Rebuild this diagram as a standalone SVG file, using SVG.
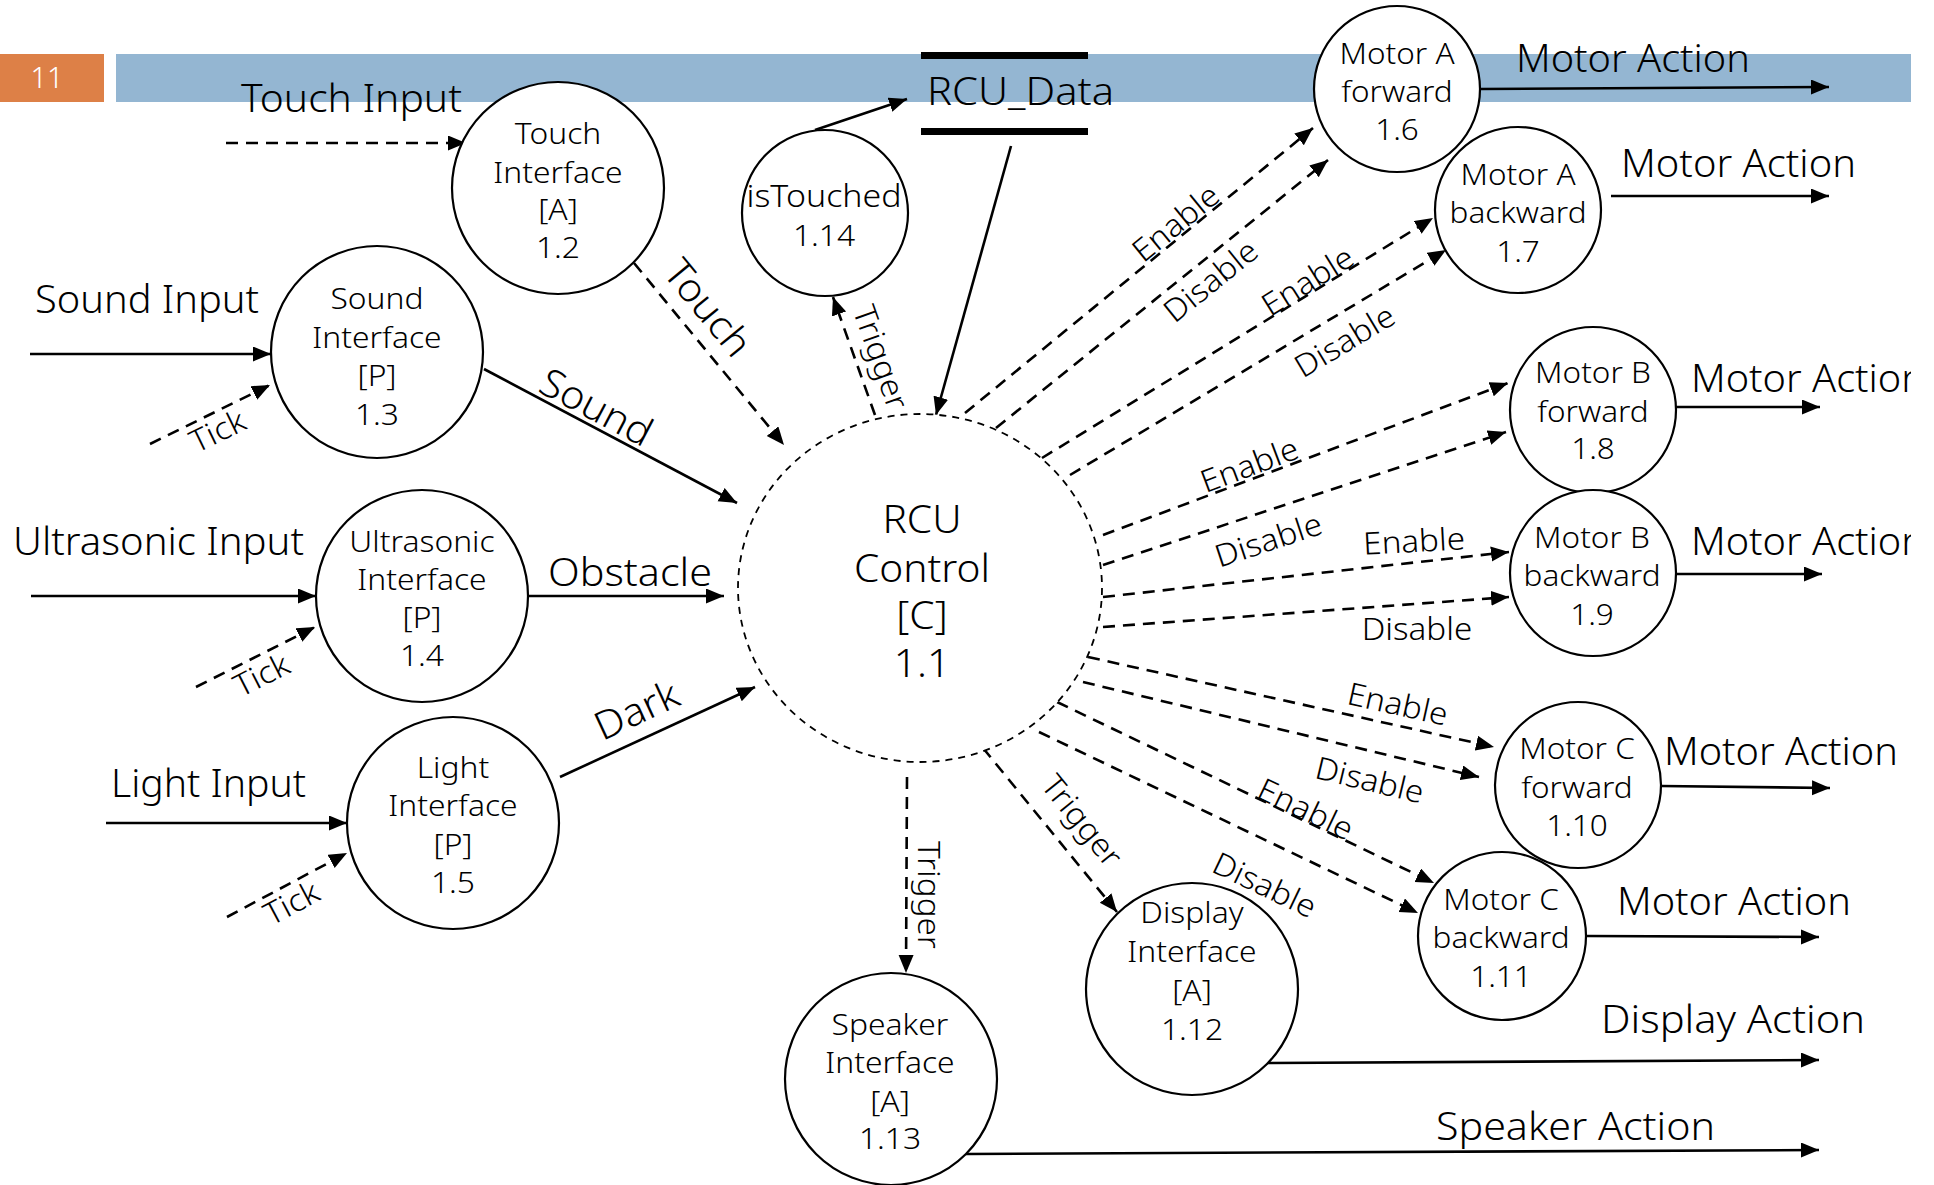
<svg xmlns="http://www.w3.org/2000/svg" width="1934" height="1185" viewBox="0 0 1934 1185">
  <style>
    text { font-family: "Noto Sans", "Liberation Sans", sans-serif; font-weight: 300; fill: #000; }
    .node { fill: #fff; stroke: #000; stroke-width: 2.2; }
    .ctrl { fill: #fff; stroke: #000; stroke-width: 1.8; stroke-dasharray: 7 6; }
    .nt text { font-size: 30px; text-anchor: middle; }
    .rcu text { font-size: 38px; text-anchor: middle; }
    .big { font-size: 39px; }
    .lbl { font-size: 31px; text-anchor: middle; dominant-baseline: central; }
    .lbig { font-size: 39px; text-anchor: middle; dominant-baseline: central; }
    .flow { fill: none; stroke: #000; stroke-width: 2.6; marker-end: url(#arrow); }
    .dflow { fill: none; stroke: #000; stroke-width: 2.6; stroke-dasharray: 12 8; marker-end: url(#arrow); }
  </style>
  <defs>
    <marker id="arrow" markerUnits="userSpaceOnUse" markerWidth="19" markerHeight="16" refX="18" refY="7.5" orient="auto">
      <path d="M0,0 L18,7.5 L0,15 z" fill="#000"/>
    </marker>
    <clipPath id="barClip">
      <rect x="0" y="0" width="1911" height="1185"/>
    </clipPath>
  </defs>

  <rect width="1934" height="1185" fill="#fff"/>

  <!-- slide header bar and page number -->
  <rect x="0" y="54" width="104" height="48" fill="#DD8047"/>
  <rect x="116" y="54" width="1795" height="48" fill="#94B6D2"/>
  <text x="47" y="88" font-size="29" text-anchor="middle" style="fill:#fff">11</text>

  <!-- data store -->
  <g id="store-rcu-data">
    <line x1="921" y1="55.5" x2="1088" y2="55.5" stroke="#000" stroke-width="7"/>
    <line x1="921" y1="131.5" x2="1088" y2="131.5" stroke="#000" stroke-width="7"/>
    <text x="927" y="105" class="big" textLength="187" lengthAdjust="spacingAndGlyphs">RCU_Data</text>
  </g>

  <!-- connectors -->
  <g id="connectors">
    <!-- external inputs -->
    <line class="dflow" x1="226" y1="143" x2="466" y2="143"/>
    <line class="flow" x1="30" y1="354" x2="271" y2="354"/>
    <line class="flow" x1="31" y1="596" x2="316" y2="596"/>
    <line class="flow" x1="106" y1="823" x2="347" y2="823"/>
    <line class="dflow" x1="150" y1="444" x2="270" y2="385"/>
    <line class="dflow" x1="196" y1="687" x2="315" y2="627"/>
    <line class="dflow" x1="227" y1="917" x2="347" y2="853"/>

    <!-- sensor interfaces to control -->
    <line class="dflow" x1="634" y1="263" x2="784" y2="445"/>
    <line class="flow" x1="484" y1="369" x2="737" y2="503"/>
    <line class="flow" x1="528" y1="596" x2="724" y2="596"/>
    <line class="flow" x1="560" y1="777" x2="755" y2="687"/>

    <!-- data store traffic -->
    <line class="flow" x1="815" y1="130" x2="907" y2="99"/>
    <line class="flow" x1="1011" y1="146" x2="936" y2="415"/>
    <line class="dflow" x1="875" y1="415" x2="833" y2="297"/>

    <!-- control to motors -->
    <line class="dflow" x1="965" y1="413" x2="1313" y2="128"/>
    <line class="dflow" x1="996" y1="428" x2="1328" y2="160"/>
    <line class="dflow" x1="1042" y1="458" x2="1433" y2="218"/>
    <line class="dflow" x1="1070" y1="475" x2="1446" y2="250"/>
    <line class="dflow" x1="1103" y1="535" x2="1508" y2="383"/>
    <line class="dflow" x1="1103" y1="565" x2="1506" y2="432"/>
    <line class="dflow" x1="1103" y1="597" x2="1509" y2="552"/>
    <line class="dflow" x1="1103" y1="627" x2="1509" y2="597"/>
    <line class="dflow" x1="1088" y1="657" x2="1494" y2="747"/>
    <line class="dflow" x1="1083" y1="682" x2="1479" y2="777"/>
    <line class="dflow" x1="1057" y1="702" x2="1434" y2="883"/>
    <line class="dflow" x1="1039" y1="732" x2="1418" y2="913"/>

    <!-- control to display / speaker -->
    <line class="dflow" x1="983" y1="748" x2="1117" y2="912"/>
    <line class="dflow" x1="907" y1="777" x2="906" y2="973"/>

    <!-- actuator outputs -->
    <line class="flow" x1="1480" y1="89" x2="1829" y2="87"/>
    <line class="flow" x1="1611" y1="196" x2="1829" y2="196"/>
    <line class="flow" x1="1676" y1="407" x2="1820" y2="407"/>
    <line class="flow" x1="1676" y1="574" x2="1822" y2="574"/>
    <line class="flow" x1="1661" y1="786" x2="1830" y2="788"/>
    <line class="flow" x1="1587" y1="936" x2="1819" y2="937"/>
    <line class="flow" x1="1267" y1="1063" x2="1819" y2="1060"/>
    <line class="flow" x1="966" y1="1154" x2="1819" y2="1150"/>

    <!-- flow labels -->
    <text class="big" x="241" y="112" textLength="221" lengthAdjust="spacingAndGlyphs">Touch Input</text>
    <text class="big" x="35" y="313" textLength="224" lengthAdjust="spacingAndGlyphs">Sound Input</text>
    <text class="big" x="13" y="555" textLength="291" lengthAdjust="spacingAndGlyphs">Ultrasonic Input</text>
    <text class="big" x="111" y="797" textLength="195" lengthAdjust="spacingAndGlyphs">Light Input</text>
    <text class="big" x="548" y="586" textLength="164" lengthAdjust="spacingAndGlyphs">Obstacle</text>
    <text class="lbl" transform="translate(217,430) rotate(-26) scale(1.07,1)">Tick</text>
    <text class="lbl" transform="translate(261,674) rotate(-27) scale(1.07,1)">Tick</text>
    <text class="lbl" transform="translate(291,902) rotate(-28) scale(1.07,1)">Tick</text>
    <text class="lbig" transform="translate(709,307) rotate(50.5) scale(1.06,1)">Touch</text>
    <text class="lbig" transform="translate(597,406) rotate(27.9) scale(1.06,1)">Sound</text>
    <text class="lbig" transform="translate(636,709) rotate(-24.8) scale(1.06,1)">Dark</text>
    <text class="lbl" transform="translate(882,357) rotate(70.4) scale(1.07,1)">Trigger</text>

    <text class="lbl" transform="translate(1175,222) rotate(-39.3) scale(1.07,1)">Enable</text>
    <text class="lbl" transform="translate(1210,280) rotate(-38.9) scale(1.07,1)">Disable</text>
    <text class="lbl" transform="translate(1307,280) rotate(-31.9) scale(1.07,1)">Enable</text>
    <text class="lbl" transform="translate(1344,340) rotate(-30.9) scale(1.07,1)">Disable</text>
    <text class="lbl" transform="translate(1249,464) rotate(-20.6) scale(1.07,1)">Enable</text>
    <text class="lbl" transform="translate(1268,539) rotate(-18.3) scale(1.07,1)">Disable</text>
    <text class="lbl" transform="translate(1414,540) rotate(-3) scale(1.07,1)">Enable</text>
    <text class="lbl" transform="translate(1417,628) scale(1.07,1)">Disable</text>
    <text class="lbl" transform="translate(1398,703) rotate(12.5) scale(1.07,1)">Enable</text>
    <text class="lbl" transform="translate(1370,779) rotate(13.5) scale(1.07,1)">Disable</text>
    <text class="lbl" transform="translate(1306,808) rotate(25.6) scale(1.07,1)">Enable</text>
    <text class="lbl" transform="translate(1265,884) rotate(25.5) scale(1.07,1)">Disable</text>
    <text class="lbl" transform="translate(1083,820) rotate(51) scale(1.07,1)">Trigger</text>
    <text class="lbl" transform="translate(930,895) rotate(90) scale(1.07,1)">Trigger</text>

    <g clip-path="url(#barClip)">
      <text class="big" x="1516" y="72" textLength="234" lengthAdjust="spacingAndGlyphs">Motor Action</text>
      <text class="big" x="1621" y="177" textLength="235" lengthAdjust="spacingAndGlyphs">Motor Action</text>
      <text class="big" x="1691" y="392" textLength="234" lengthAdjust="spacingAndGlyphs">Motor Action</text>
      <text class="big" x="1691" y="555" textLength="234" lengthAdjust="spacingAndGlyphs">Motor Action</text>
      <text class="big" x="1664" y="765" textLength="234" lengthAdjust="spacingAndGlyphs">Motor Action</text>
      <text class="big" x="1617" y="915" textLength="234" lengthAdjust="spacingAndGlyphs">Motor Action</text>
      <text class="big" x="1601" y="1033" textLength="264" lengthAdjust="spacingAndGlyphs">Display Action</text>
      <text class="big" x="1436" y="1140" textLength="279" lengthAdjust="spacingAndGlyphs">Speaker Action</text>
    </g>
  </g>

  <!-- processes -->
  <g id="rcu-control">
    <ellipse class="ctrl" cx="920" cy="588" rx="182" ry="174"/>
    <g class="rcu" transform="translate(922,0) scale(1.07,1)">
      <text x="0" y="533">RCU</text>
      <text x="0" y="582">Control</text>
      <text x="0" y="629">[C]</text>
      <text x="0" y="677">1.1</text>
    </g>
  </g>
  <g id="touch-interface">
    <circle class="node" cx="558" cy="188" r="106"/>
    <g class="nt" transform="translate(558,0) scale(1.06,1)">
      <text x="0" y="144">Touch</text>
      <text x="0" y="183">Interface</text>
      <text x="0" y="220">[A]</text>
      <text x="0" y="258">1.2</text>
    </g>
  </g>
  <g id="sound-interface">
    <circle class="node" cx="377" cy="352" r="106"/>
    <g class="nt" transform="translate(377,0) scale(1.06,1)">
      <text x="0" y="309">Sound</text>
      <text x="0" y="348">Interface</text>
      <text x="0" y="386">[P]</text>
      <text x="0" y="425">1.3</text>
    </g>
  </g>
  <g id="ultrasonic-interface">
    <circle class="node" cx="422" cy="596" r="106"/>
    <g class="nt" transform="translate(422,0) scale(1.06,1)">
      <text x="0" y="552">Ultrasonic</text>
      <text x="0" y="590">Interface</text>
      <text x="0" y="628">[P]</text>
      <text x="0" y="666">1.4</text>
    </g>
  </g>
  <g id="light-interface">
    <circle class="node" cx="453" cy="823" r="106"/>
    <g class="nt" transform="translate(453,0) scale(1.06,1)">
      <text x="0" y="778">Light</text>
      <text x="0" y="816">Interface</text>
      <text x="0" y="855">[P]</text>
      <text x="0" y="893">1.5</text>
    </g>
  </g>
  <g id="is-touched">
    <circle class="node" cx="825" cy="213" r="83"/>
    <g class="nt" transform="translate(824,0) scale(1.06,1)">
      <text x="0" y="207" style="font-size:32px">isTouched</text>
      <text x="0" y="246">1.14</text>
    </g>
  </g>
  <g id="motor-a-forward">
    <circle class="node" cx="1397" cy="89" r="83"/>
    <g class="nt" transform="translate(1397,0) scale(1.05,1)">
      <text x="0" y="64">Motor A</text>
      <text x="0" y="102">forward</text>
      <text x="0" y="140">1.6</text>
    </g>
  </g>
  <g id="motor-a-backward">
    <circle class="node" cx="1518" cy="210" r="83"/>
    <g class="nt" transform="translate(1518,0) scale(1.05,1)">
      <text x="0" y="185">Motor A</text>
      <text x="0" y="223">backward</text>
      <text x="0" y="262">1.7</text>
    </g>
  </g>
  <g id="motor-b-forward">
    <circle class="node" cx="1593" cy="410" r="83"/>
    <g class="nt" transform="translate(1593,0) scale(1.05,1)">
      <text x="0" y="383">Motor B</text>
      <text x="0" y="422">forward</text>
      <text x="0" y="459">1.8</text>
    </g>
  </g>
  <g id="motor-b-backward">
    <circle class="node" cx="1593" cy="573" r="83"/>
    <g class="nt" transform="translate(1592,0) scale(1.05,1)">
      <text x="0" y="548">Motor B</text>
      <text x="0" y="586">backward</text>
      <text x="0" y="625">1.9</text>
    </g>
  </g>
  <g id="motor-c-forward">
    <circle class="node" cx="1578" cy="785" r="83"/>
    <g class="nt" transform="translate(1577,0) scale(1.05,1)">
      <text x="0" y="759">Motor C</text>
      <text x="0" y="798">forward</text>
      <text x="0" y="836">1.10</text>
    </g>
  </g>
  <g id="motor-c-backward">
    <circle class="node" cx="1502" cy="936" r="84"/>
    <g class="nt" transform="translate(1501,0) scale(1.05,1)">
      <text x="0" y="910">Motor C</text>
      <text x="0" y="948">backward</text>
      <text x="0" y="987">1.11</text>
    </g>
  </g>
  <g id="display-interface">
    <circle class="node" cx="1192" cy="989" r="106"/>
    <g class="nt" transform="translate(1192,0) scale(1.06,1)">
      <text x="0" y="923">Display</text>
      <text x="0" y="962">Interface</text>
      <text x="0" y="1001">[A]</text>
      <text x="0" y="1040">1.12</text>
    </g>
  </g>
  <g id="speaker-interface">
    <circle class="node" cx="891" cy="1079" r="106"/>
    <g class="nt" transform="translate(890,0) scale(1.06,1)">
      <text x="0" y="1035">Speaker</text>
      <text x="0" y="1073">Interface</text>
      <text x="0" y="1112">[A]</text>
      <text x="0" y="1149">1.13</text>
    </g>
  </g>
</svg>
